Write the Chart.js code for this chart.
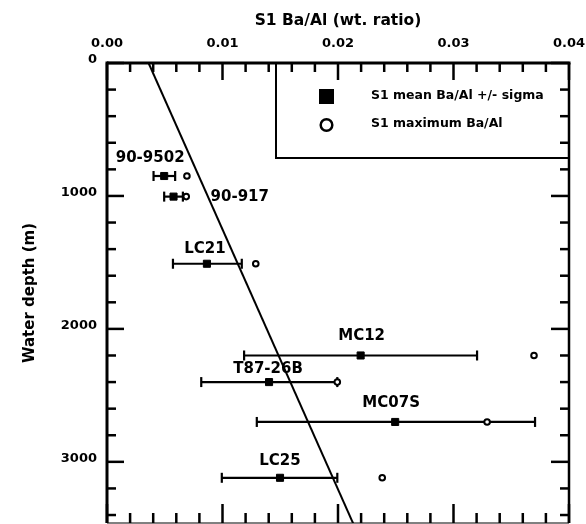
<!DOCTYPE html>
<html>
<head>
<meta charset="utf-8">
<script src="https://cdn.jsdelivr.net/npm/chart.js@4.4.1/dist/chart.umd.min.js"></script>
<style>
  html, body { margin: 0; padding: 0; background: #fff; }
  canvas { display: block; }
</style>
</head>
<body>
<canvas id="c" width="586" height="524"></canvas>
<script>
// Core sites: S1 sapropel Ba/Al against water depth
const sites     = ['90-9502', '90-917', 'LC21', 'MC12', 'T87-26B', 'MC07S', 'LC25'];
const depth     = [850, 1005, 1510, 2200, 2400, 2700, 3120];
const meanBaAl  = [0.00495, 0.00576, 0.00865, 0.02196, 0.01403, 0.02495, 0.01498];
const sigmaLow  = [0.00403, 0.00495, 0.00571, 0.01187, 0.00816, 0.01297, 0.00994];
const sigmaHigh = [0.00590, 0.00657, 0.01167, 0.03204, 0.01994, 0.03706, 0.01994];
const maxBaAl   = [0.00692, 0.00686, 0.01288, 0.03697, 0.01994, 0.03291, 0.02383];

// Depth trend line end points
const trendDepth = [0, 3500];
const trendBaAl  = [0.0036, 0.0215];

// Labelled ticks
const xTicks = [0, 0.01, 0.02, 0.03, 0.04];
const yTicks = [0, 1000, 2000, 3000];

const legendItems = ['S1 mean Ba/Al +/- sigma', 'S1 maximum Ba/Al'];

const FONT = 'DejaVu Sans';

// Where each site name sits relative to its mean marker [dx, dy, align]
const labelSpot = {
  '90-9502': [-14, -18, 'center'],
  '90-917':  [37, 0, 'left'],
  'LC21':    [-2, -15, 'center'],
  'MC12':    [1, -19, 'center'],
  'T87-26B': [-1, -13, 'center'],
  'MC07S':   [-4, -19, 'center'],
  'LC25':    [0, -17, 'center']
};

function seg(ctx, x1, y1, x2, y2) {
  ctx.beginPath(); ctx.moveTo(x1, y1); ctx.lineTo(x2, y2); ctx.stroke();
}

function noEdgePadding(s) {
  s.paddingLeft = 0; s.paddingRight = 0; s.paddingTop = 0; s.paddingBottom = 0;
}

// Horizontal +/- sigma bars with end caps
const errorBars = {
  id: 'errorBars',
  beforeDatasetsDraw(chart) {
    const { ctx, scales: { x, y } } = chart;
    ctx.save();
    ctx.strokeStyle = '#000';
    ctx.lineWidth = 2.2;
    ctx.lineCap = 'butt';
    depth.forEach((d, i) => {
      const py = y.getPixelForValue(d);
      const x1 = x.getPixelForValue(sigmaLow[i]);
      const x2 = x.getPixelForValue(sigmaHigh[i]);
      seg(ctx, x1, py, x2, py);
      seg(ctx, x1, py - 5, x1, py + 5);
      seg(ctx, x2, py - 5, x2, py + 5);
    });
    ctx.restore();
  }
};

// Site names next to the markers
const siteLabels = {
  id: 'siteLabels',
  afterDatasetsDraw(chart) {
    const { ctx, scales: { x, y } } = chart;
    ctx.save();
    ctx.fillStyle = '#000';
    ctx.font = 'bold 15px "' + FONT + '"';
    ctx.textBaseline = 'middle';
    sites.forEach((s, i) => {
      const [dx, dy, al] = labelSpot[s];
      ctx.textAlign = al;
      ctx.fillText(s, x.getPixelForValue(meanBaAl[i]) + dx, y.getPixelForValue(depth[i]) + dy);
    });
    ctx.restore();
  }
};

// Frame with inward tick marks on all four sides
const frame = {
  id: 'frame',
  afterDraw(chart) {
    const { ctx, chartArea: a, scales: { x, y } } = chart;
    ctx.save();
    ctx.strokeStyle = '#000';
    ctx.lineCap = 'butt';
    ctx.lineWidth = 2.5;
    for (let i = 0; i <= 20; i++) {
      const px = x.getPixelForValue(i * 0.002);
      const major = i % 5 === 0;
      seg(ctx, px, a.top, px, a.top + (major ? 17 : 9));
      seg(ctx, px, a.bottom, px, a.bottom - (major ? 19 : 10));
    }
    for (let i = 0; i * 200 <= y.max; i++) {
      const py = y.getPixelForValue(i * 200);
      const major = i % 5 === 0;
      seg(ctx, a.left, py, a.left + (major ? 17 : 9), py);
      seg(ctx, a.right, py, a.right - (major ? 18 : 9), py);
    }
    ctx.lineWidth = 3;
    seg(ctx, a.left, a.top - 1.5, a.left, a.bottom);
    seg(ctx, a.left, a.top, a.right + 1.5, a.top);
    ctx.lineWidth = 2.5;
    seg(ctx, a.right, a.top, a.right, a.bottom);
    ctx.lineWidth = 1;
    seg(ctx, a.left, a.bottom, a.right, a.bottom);
    ctx.restore();
  }
};

// Key box in the upper right corner
const keyBox = {
  id: 'keyBox',
  afterDraw(chart) {
    const { ctx, chartArea: a } = chart;
    const left = 276, bottom = 158;
    ctx.save();
    ctx.strokeStyle = '#000';
    ctx.lineWidth = 2;
    ctx.beginPath();
    ctx.moveTo(left, a.top);
    ctx.lineTo(left, bottom);
    ctx.lineTo(a.right, bottom);
    ctx.stroke();
    ctx.fillStyle = '#000';
    ctx.fillRect(319, 89, 15, 15);
    ctx.lineWidth = 2.5;
    ctx.beginPath();
    ctx.arc(326.5, 125, 5.8, 0, Math.PI * 2);
    ctx.stroke();
    ctx.font = 'bold 12.5px "' + FONT + '"';
    ctx.textBaseline = 'middle';
    ctx.textAlign = 'left';
    ctx.fillText(legendItems[0], 371, 96);
    ctx.fillText(legendItems[1], 371, 124);
    ctx.restore();
  }
};

Chart.defaults.font.family = FONT;
Chart.defaults.font.weight = 'bold';
Chart.defaults.color = '#000';

new Chart(document.getElementById('c'), {
  type: 'scatter',
  data: {
    datasets: [
      {
        label: 'trend',
        data: trendDepth.map((d, i) => ({ x: trendBaAl[i], y: d })),
        showLine: true,
        borderColor: '#000',
        borderWidth: 2,
        pointRadius: 0
      },
      {
        label: legendItems[0],
        data: depth.map((d, i) => ({ x: meanBaAl[i], y: d })),
        pointStyle: 'rect',
        pointRadius: 5,
        backgroundColor: '#000',
        borderColor: '#000',
        borderWidth: 1
      },
      {
        label: legendItems[1],
        data: depth.map((d, i) => ({ x: maxBaAl[i], y: d })),
        pointStyle: 'circle',
        pointRadius: 2.8,
        backgroundColor: '#fff',
        borderColor: '#000',
        borderWidth: 2
      }
    ]
  },
  options: {
    responsive: false,
    animation: false,
    events: [],
    devicePixelRatio: 1,
    layout: { autoPadding: false, padding: { left: 0, top: 0, right: 17, bottom: 1 } },
    plugins: { legend: { display: false }, tooltip: { enabled: false } },
    scales: {
      x: {
        type: 'linear',
        position: 'top',
        min: 0,
        max: 0.04,
        afterBuildTicks: s => { s.ticks = xTicks.map(v => ({ value: v })); },
        afterFit: s => { s.height = 63; noEdgePadding(s); },
        grid: { display: false, drawTicks: false },
        border: { display: false },
        ticks: {
          padding: 12,
          font: { size: 13, weight: 'bold' },
          callback: v => v.toFixed(2)
        },
        title: {
          display: true,
          text: 'S1 Ba/Al (wt. ratio)',
          font: { size: 15.5, weight: 'bold' },
          padding: { top: 12, bottom: 0 }
        }
      },
      y: {
        type: 'linear',
        position: 'left',
        reverse: true,
        min: 0,
        max: 3460,
        afterBuildTicks: s => { s.ticks = yTicks.map(v => ({ value: v })); },
        afterFit: s => { s.width = 107; noEdgePadding(s); },
        grid: { display: false, drawTicks: false },
        border: { display: false },
        ticks: {
          padding: 10,
          labelOffset: -3,
          font: { size: 13, weight: 'bold' },
          callback: v => String(v)
        },
        title: {
          display: true,
          text: 'Water depth (m)',
          font: { size: 15, weight: 'bold' },
          padding: { top: 21, bottom: 0 }
        }
      }
    }
  },
  plugins: [errorBars, siteLabels, frame, keyBox]
});
</script>
</body>
</html>
